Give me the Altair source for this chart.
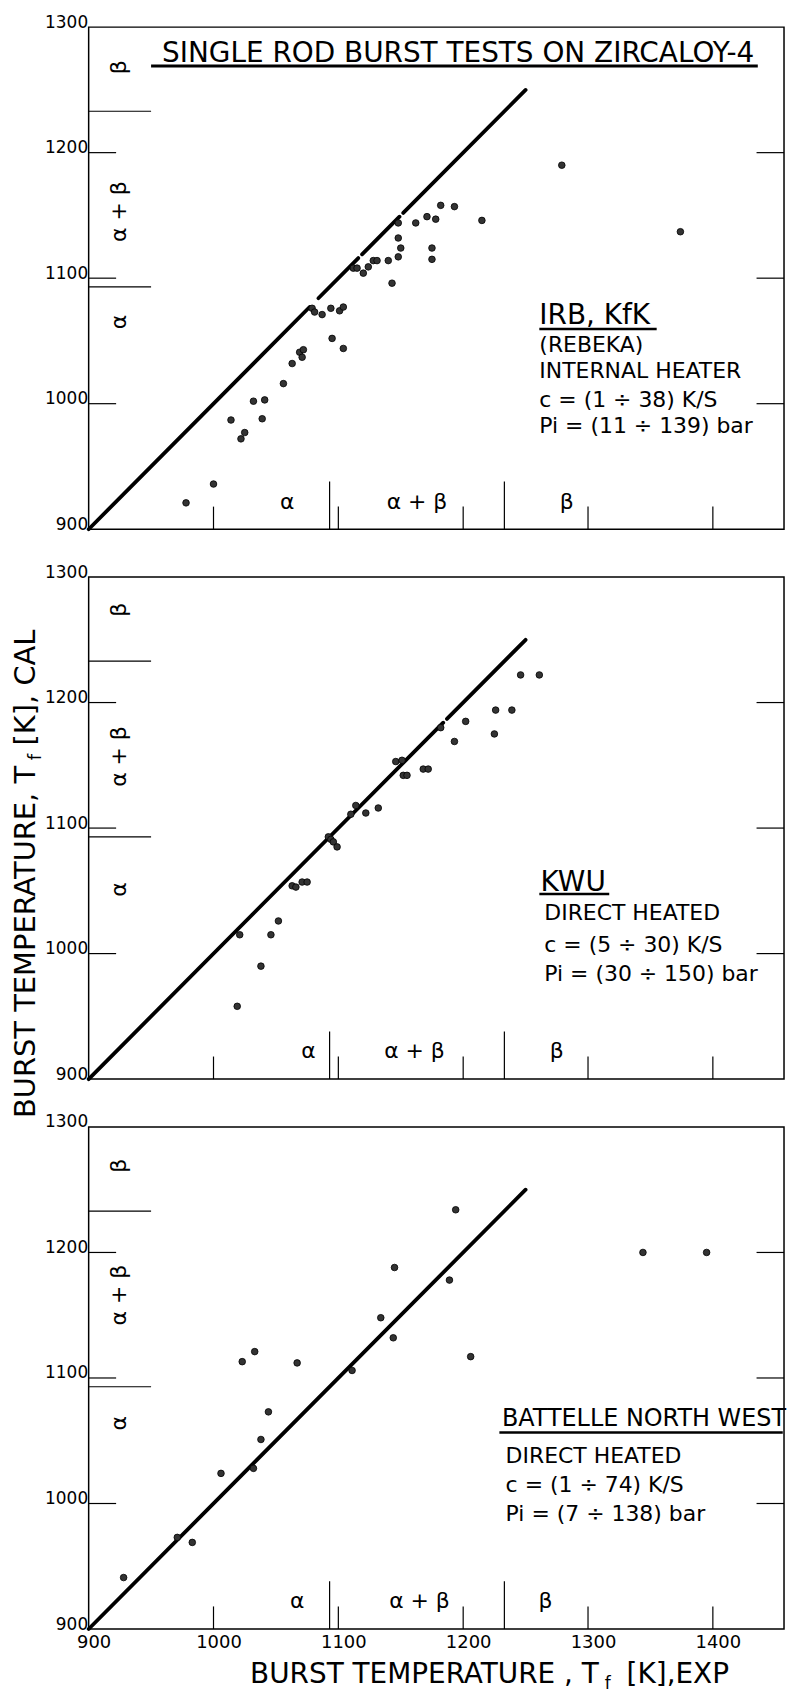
import altair as alt
import pandas as pd

FONT = "DejaVu Sans"
W, H = 698, 504
X_DOMAIN = [900, 1457]
Y_DOMAIN = [900, 1300]

X_LABELS = [900, 1000, 1100, 1200, 1300, 1400]
Y_LABELS = [900, 1000, 1100, 1200, 1300]
INNER_X_TICKS = [1000, 1100, 1200, 1300, 1400]
INNER_Y_TICKS = [1000, 1100, 1200]
PHASE_BOUNDS = [1093, 1233]          # alpha / alpha+beta / beta transitions, K
PHASE_NAMES = ["α", "α + β", "β"]

# IRB, KfK (REBEKA), internal heater
kfk_exp = [978, 1000, 1014, 1022, 1025, 1032, 1039, 1041, 1056, 1063, 1069, 1071,
           1072, 1079, 1081, 1087, 1094, 1095, 1101, 1104, 1104, 1112, 1115, 1120,
           1124, 1128, 1131, 1140, 1143, 1148, 1150, 1148, 1148, 1162, 1171, 1178,
           1182, 1193, 1175, 1175, 1215, 1279, 1374]
kfk_cal = [921, 936, 987, 972, 977, 1002, 988, 1003, 1016, 1032, 1041, 1037,
           1043, 1076, 1073, 1071, 1076, 1052, 1074, 1077, 1044, 1108, 1108, 1104,
           1109, 1114, 1114, 1114, 1096, 1117, 1124, 1132, 1144, 1144, 1149, 1147,
           1158, 1157, 1124, 1115, 1146, 1190, 1137]

# KWU, direct heated
kwu_exp = [1019, 1021, 1038, 1046, 1052, 1063, 1066, 1071, 1075, 1092, 1094, 1096,
           1099, 1110, 1114, 1122, 1132, 1146, 1151, 1152, 1155, 1168, 1172, 1182,
           1193, 1202, 1225, 1226, 1239, 1246, 1261]
kwu_cal = [958, 1015, 990, 1015, 1026, 1054, 1053, 1057, 1057, 1093, 1091, 1089,
           1085, 1111, 1118, 1112, 1116, 1153, 1154, 1142, 1142, 1147, 1147, 1180,
           1169, 1185, 1175, 1194, 1194, 1222, 1222]

# Battelle North West, direct heated
bnw_exp = [928, 971, 983, 1006, 1023, 1032, 1033, 1038, 1044, 1067, 1111, 1134,
           1144, 1145, 1189, 1194, 1206, 1344, 1395]
bnw_cal = [941, 973, 969, 1024, 1113, 1028, 1121, 1051, 1073, 1112, 1106, 1148,
           1132, 1188, 1178, 1234, 1117, 1200, 1200]

# pieces of the T_exp = T_cal diagonal (900 ... 1250 K)
kfk_diag = [(900, 1077), (1084, 1116), (1119, 1149), (1152, 1250)]
kwu_diag = [(900, 1184), (1187, 1250)]
bnw_diag = [(900, 1250)]

TICK_H = 22     # length of the inner ticks on the left / right edges, K
PHASE_H = 50    # length of the phase marks on the left edge, K
TICK_V = 18     # length of the inner ticks on the bottom edge, K
PHASE_V = 38    # length of the phase marks on the bottom edge, K


def make_panel(exp, cal, diag, left_y, bottom_x, head, head_size, head_xy,
               uline, notes, notes_x, notes_y, show_x, extra=()):
    xscale = alt.Scale(domain=X_DOMAIN, nice=False, zero=False)
    yscale = alt.Scale(domain=Y_DOMAIN, nice=False, zero=False)
    if show_x:
        xaxis = alt.Axis(values=X_LABELS, format="d", ticks=False, domain=False, grid=False,
                         labelFont=FONT, labelFontSize=18, labelColor="black",
                         labelPadding=5, labelOffset=5, labelFlush=False,
                         labelOverlap=False, title=None)
    else:
        xaxis = None
    yaxis = alt.Axis(values=Y_LABELS, format="d", ticks=False, domain=False, grid=False,
                     labelFont=FONT, labelFontSize=17, labelColor="black",
                     labelBaseline="alphabetic", labelPadding=1,
                     labelOverlap=False, title=None)

    def X(f):
        return alt.X(f, type="quantitative", scale=xscale, axis=xaxis)

    def Y(f):
        return alt.Y(f, type="quantitative", scale=yscale, axis=yaxis)

    # inner ticks and phase marks on the frame
    rows = []
    for v in INNER_Y_TICKS:
        rows.append(dict(x=900, x2=900 + TICK_H, y=v, y2=v))
        rows.append(dict(x=X_DOMAIN[1] - TICK_H, x2=X_DOMAIN[1], y=v, y2=v))
    for v in PHASE_BOUNDS:
        rows.append(dict(x=900, x2=900 + PHASE_H, y=v, y2=v))
        rows.append(dict(x=v, x2=v, y=900, y2=900 + PHASE_V))
    for v in INNER_X_TICKS:
        rows.append(dict(x=v, x2=v, y=900, y2=900 + TICK_V))
    ticks = alt.Chart(pd.DataFrame(rows)).mark_rule(color="black", strokeWidth=1.2).encode(
        x=X("x"), x2="x2", y=Y("y"), y2="y2")

    diag_df = pd.DataFrame({"a": [d[0] for d in diag], "b": [d[1] for d in diag]})
    diagonal = alt.Chart(diag_df).mark_rule(color="black", strokeWidth=3.8,
                                            strokeCap="round").encode(
        x=X("a"), y=Y("a"), x2="b", y2="b")

    pts = alt.Chart(pd.DataFrame({"exp": exp, "cal": cal})).mark_circle(
        size=44, color="#333333", stroke="black", strokeWidth=0.8, opacity=1).encode(
        x=X("exp"), y=Y("cal"))

    left_lab = alt.Chart(pd.DataFrame({"y": left_y, "t": PHASE_NAMES, "x": [924] * 3})).mark_text(
        font=FONT, fontSize=22, angle=270, align="center", baseline="middle", color="black").encode(
        x=X("x"), y=Y("y"), text="t:N")
    bottom_lab = alt.Chart(pd.DataFrame({"x": bottom_x, "t": PHASE_NAMES, "y": [922] * 3})).mark_text(
        font=FONT, fontSize=22, align="center", baseline="middle", color="black").encode(
        x=X("x"), y=Y("y"), text="t:N")

    heading = alt.Chart(pd.DataFrame({"x": [head_xy[0]], "y": [head_xy[1]], "t": [head]})).mark_text(
        font=FONT, fontSize=head_size, align="left", baseline="middle", color="black").encode(
        x=X("x"), y=Y("y"), text="t:N")
    underline = alt.Chart(pd.DataFrame({"x": [uline[0]], "x2": [uline[1]], "y": [uline[2]]})).mark_rule(
        color="black", strokeWidth=2.5).encode(x=X("x"), x2="x2", y=Y("y"))
    note_txt = alt.Chart(pd.DataFrame({"x": [notes_x] * len(notes), "y": notes_y, "t": notes})).mark_text(
        font=FONT, fontSize=22, align="left", baseline="middle", color="black").encode(
        x=X("x"), y=Y("y"), text="t:N")

    layers = [ticks, diagonal, pts, left_lab, bottom_lab, heading, underline, note_txt]
    layers += [e(X, Y) for e in extra]
    return alt.layer(*layers).properties(width=W, height=H)


def chart_title(X, Y):
    t = alt.Chart(pd.DataFrame({"x": [1196], "y": [1272],
                                "t": ["SINGLE ROD BURST TESTS ON ZIRCALOY-4"]})).mark_text(
        font=FONT, fontSize=28, align="center", baseline="alphabetic", color="black").encode(
        x=X("x"), y=Y("y"), text="t:N")
    u = alt.Chart(pd.DataFrame({"x": [950], "x2": [1436], "y": [1269]})).mark_rule(
        color="black", strokeWidth=3).encode(x=X("x"), x2="x2", y=Y("y"))
    return t + u


def text_piece(s, px, py, size, angle=0):
    kw = dict(font=FONT, fontSize=size, align="left", baseline="alphabetic", color="black")
    if angle:
        kw["angle"] = angle
    return alt.Chart(pd.DataFrame({"t": [s]})).mark_text(**kw).encode(
        x=alt.value(px), y=alt.value(py), text="t:N")


Y_TITLE = ["BURST TEMPERATURE, T", "f", "[K], CAL"]
X_TITLE = ["BURST TEMPERATURE , T", "f", "[K],EXP"]


def y_title(X, Y):
    return alt.layer(
        text_piece(Y_TITLE[0], -54, 543, 29, 270),
        text_piece(Y_TITLE[1], -48, 184, 18, 270),
        text_piece(Y_TITLE[2], -54, 169, 29, 270),
    )


def x_title(X, Y):
    return alt.layer(
        text_piece(X_TITLE[0], 162, 558, 28),
        text_piece(X_TITLE[1], 518, 564, 17),
        text_piece(X_TITLE[2], 540, 558, 28),
    )


p1 = make_panel(kfk_exp, kfk_cal, kfk_diag,
                left_y=[1065, 1153, 1268], bottom_x=[1059, 1163, 1283],
                head="IRB, KfK", head_size=28, head_xy=(1261, 1070),
                uline=(1261, 1355, 1059.5),
                notes=["(REBEKA)", "INTERNAL HEATER", "c = (1 ÷ 38) K/S", "Pi = (11 ÷ 139) bar"],
                notes_x=1261, notes_y=[1047, 1026, 1003, 982],
                show_x=False, extra=[chart_title])

p2 = make_panel(kwu_exp, kwu_cal, kwu_diag,
                left_y=[1051, 1157, 1274], bottom_x=[1076, 1161, 1275],
                head="KWU", head_size=28, head_xy=(1262, 1056),
                uline=(1261, 1317, 1047.5),
                notes=["DIRECT HEATED", "c = (5 ÷ 30) K/S", "Pi = (30 ÷ 150) bar"],
                notes_x=1265, notes_y=[1032.5, 1007, 984],
                show_x=False, extra=[y_title])

p3 = make_panel(bnw_exp, bnw_cal, bnw_diag,
                left_y=[1064, 1166, 1269], bottom_x=[1067, 1165, 1266],
                head="BATTELLE NORTH WEST", head_size=24, head_xy=(1231, 1067),
                uline=(1229, 1456, 1056.5),
                notes=["DIRECT HEATED", "c = (1 ÷ 74) K/S", "Pi = (7 ÷ 138) bar"],
                notes_x=1234, notes_y=[1038, 1015, 992],
                show_x=True, extra=[x_title])

chart = alt.vconcat(p1, p2, p3, spacing=48, bounds="flush").properties(
    padding={"left": 11, "top": 9, "right": 0, "bottom": 0},
    background="white",
).configure_view(stroke="black", strokeWidth=1.5)

chart.save("out.html", embed_options={"renderer": "svg", "actions": False})
